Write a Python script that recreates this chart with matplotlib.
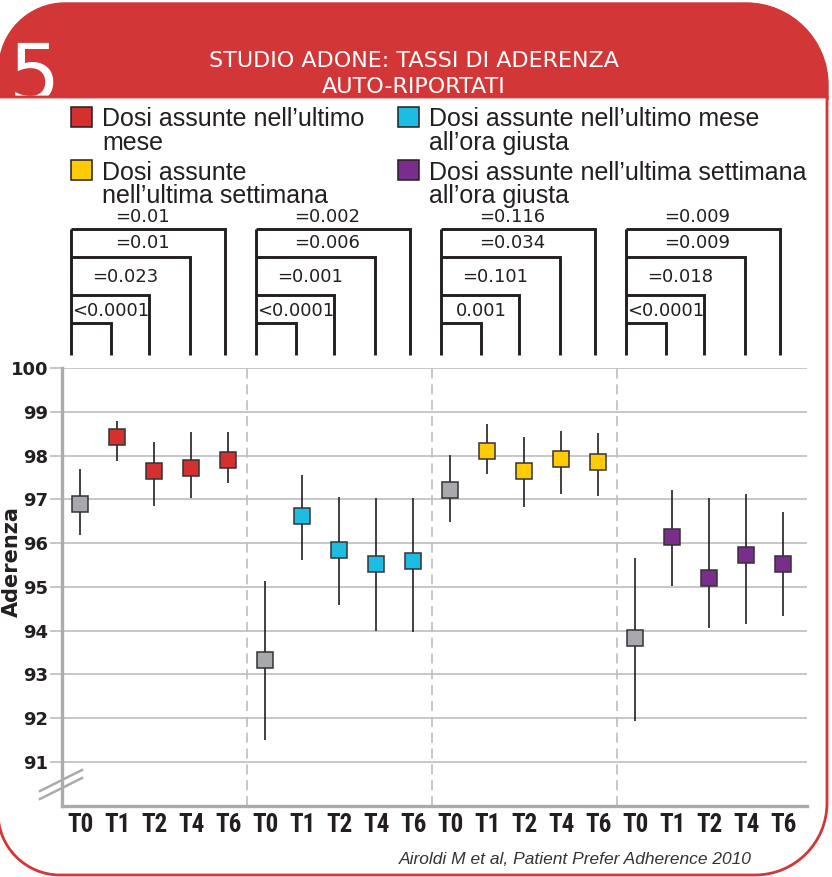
import matplotlib
matplotlib.use('Agg')
import matplotlib.pyplot as plt
from matplotlib.path import Path
from matplotlib.patches import PathPatch, Rectangle
from matplotlib import transforms
from matplotlib import font_manager as fm

# ---------------- data ----------------
timepoints = ['T0', 'T1', 'T2', 'T4', 'T6']

# panel 1: doses taken in the last month (red)
mean_mese = [96.89, 98.42, 97.64, 97.72, 97.90]
low_mese = [96.19, 97.87, 96.84, 97.04, 97.38]
high_mese = [97.70, 98.80, 98.31, 98.53, 98.54]
p_mese = ['<0.0001', '=0.023', '=0.01', '=0.01']

# panel 2: doses taken in the last month at the right time (cyan)
mean_mese_ora = [93.32, 96.62, 95.85, 95.52, 95.60]
low_mese_ora = [91.51, 95.62, 94.58, 94.00, 93.97]
high_mese_ora = [95.14, 97.55, 97.05, 97.04, 97.03]
p_mese_ora = ['<0.0001', '=0.001', '=0.006', '=0.002']

# panel 3: doses taken in the last week (yellow)
mean_sett = [97.21, 98.11, 97.64, 97.91, 97.85]
low_sett = [96.48, 97.58, 96.83, 97.13, 97.07]
high_sett = [98.02, 98.73, 98.43, 98.57, 98.51]
p_sett = ['0.001', '=0.101', '=0.034', '=0.116']

# panel 4: doses taken in the last week at the right time (purple)
mean_sett_ora = [93.83, 96.13, 95.20, 95.72, 95.52]
low_sett_ora = [91.93, 95.01, 94.07, 94.15, 94.34]
high_sett_ora = [95.65, 97.21, 97.04, 97.12, 96.72]
p_sett_ora = ['<0.0001', '=0.018', '=0.009', '=0.009']

legend_labels = ['Dosi assunte nell\u2019ultimo\nmese',
                 'Dosi assunte\nnell\u2019ultima settimana',
                 'Dosi assunte nell\u2019ultimo mese\nall\u2019ora giusta',
                 'Dosi assunte nell\u2019ultima settimana\nall\u2019ora giusta']

title = 'STUDIO ADONE: TASSI DI ADERENZA\nAUTO-RIPORTATI'
citation = 'Airoldi M et al, Patient Prefer Adherence 2010'

# ---------------- style ----------------
RED_HDR = '#D33637'
C_RED = '#D4302F'
C_CYAN = '#1DBDE3'
C_YEL = '#FFCB05'
C_PUR = '#7B2D8C'
C_GRAY = '#A7A9AC'
INK = '#231F20'
GRID = '#BDBEC0'

panels = [
    (mean_mese, low_mese, high_mese, p_mese, C_RED),
    (mean_mese_ora, low_mese_ora, high_mese_ora, p_mese_ora, C_CYAN),
    (mean_sett, low_sett, high_sett, p_sett, C_YEL),
    (mean_sett_ora, low_sett_ora, high_sett_ora, p_sett_ora, C_PUR),
]


def has_font(name):
    try:
        fm.findfont(fm.FontProperties(family=name), fallback_to_default=False)
        return True
    except Exception:
        return False


if has_font('Liberation Sans Narrow'):
    xt_family, xt_size = ['Liberation Sans Narrow', 'DejaVu Sans'], 18
elif has_font('Roboto Condensed'):
    xt_family, xt_size = ['Roboto Condensed', 'DejaVu Sans'], 18
else:
    xt_family, xt_size = ['DejaVu Sans'], 14

W, H, DPI = 832, 877, 100
fig = plt.figure(figsize=(W / DPI, H / DPI), dpi=DPI)
fig.patch.set_facecolor('white')

# background / overlay axes in pixel coordinates (y downward)
bg = fig.add_axes([0, 0, 1, 1], zorder=0)
bg.set_xlim(0, W)
bg.set_ylim(H, 0)
bg.axis('off')
bg.set_autoscale_on(False)

K = 0.5523
# header shape
x0, x1, yt, yb = -1, 828, 3, 100
rl, rr = 66, 82
hv = [(x0, yb), (x0, yt + rl), (x0, yt + rl - K * rl), (x0 + rl - K * rl, yt), (x0 + rl, yt),
      (x1 - rr, yt), (x1 - rr + K * rr, yt), (x1, yt + rr - K * rr), (x1, yt + rr),
      (x1, yb), (x0, yb)]
hc = [Path.MOVETO, Path.LINETO, Path.CURVE4, Path.CURVE4, Path.CURVE4,
      Path.LINETO, Path.CURVE4, Path.CURVE4, Path.CURVE4, Path.LINETO, Path.CLOSEPOLY]
bg.add_patch(PathPatch(Path(hv, hc), facecolor=RED_HDR, edgecolor=RED_HDR, lw=1, zorder=1))

# big "5"
bg.text(9, 101, '5', color='white', fontsize=58, family='DejaVu Sans',
        ha='left', va='baseline', zorder=2)

# white body with red outline and rounded bottom corners
bx0, bx1, by0, by1 = -2, 827, 97, 875
bl, br = 62, 72
bv = [(bx0, by0), (bx1, by0), (bx1, by1 - br),
      (bx1, by1 - br + K * br), (bx1 - br + K * br, by1), (bx1 - br, by1),
      (bx0 + bl, by1),
      (bx0 + bl - K * bl, by1), (bx0, by1 - bl + K * bl), (bx0, by1 - bl),
      (bx0, by0)]
bc = [Path.MOVETO, Path.LINETO, Path.LINETO, Path.CURVE4, Path.CURVE4, Path.CURVE4,
      Path.LINETO, Path.CURVE4, Path.CURVE4, Path.CURVE4, Path.CLOSEPOLY]
bg.add_patch(PathPatch(Path(bv, bc), facecolor='white', edgecolor=RED_HDR, lw=2.0, zorder=3))

# title
bg.text(414, 74, title, color='white', fontsize=16, family='DejaVu Sans',
        ha='center', va='center', linespacing=1.35, zorder=4)

# legend
leg_pos = [(71, 107, C_RED), (71, 160, C_YEL), (398, 107, C_CYAN), (398, 160, C_PUR)]
for (lx, ly, col), lab in zip(leg_pos, legend_labels):
    bg.add_patch(Rectangle((lx, ly), 21, 20, facecolor=col, edgecolor=INK, lw=1.1, zorder=5))
    bg.text(lx + 31, ly + 0.5, lab, color=INK, fontsize=18, family=['Liberation Sans', 'DejaVu Sans'],
            ha='left', va='top', linespacing=0.96, zorder=5)

# ---------------- main axes ----------------
ax_l, ax_r, ax_t, ax_b = 62, 807, 368, 805.7
ax = fig.add_axes([ax_l / W, (H - ax_b) / H, (ax_r - ax_l) / W, (ax_b - ax_t) / H], zorder=2)
ax.patch.set_visible(False)
ax.set_xlim(-0.49, 19.64)
ax.set_ylim(90, 100)

ax.set_yticks(range(91, 101))
ax.set_yticklabels([str(v) for v in range(91, 101)])
ax.yaxis.grid(True, color=GRID, lw=1.2, zorder=0)
ax.tick_params(axis='y', length=9, width=1.2, color=GRID, pad=1.0,
               labelsize=13, labelcolor=INK)
for t in ax.get_yticklabels():
    t.set_fontweight('bold')
    t.set_family('DejaVu Sans')

xs_all = list(range(len(timepoints) * len(panels)))
ax.set_xticks(xs_all)
ax.set_xticklabels(timepoints * len(panels))
ax.tick_params(axis='x', length=0, pad=5, labelsize=xt_size, labelcolor=INK)
for t in ax.get_xticklabels():
    t.set_fontweight('bold')
    t.set_family(xt_family)

for s in ['top', 'right']:
    ax.spines[s].set_visible(False)
for s in ['left', 'bottom']:
    ax.spines[s].set_color('#ABABAD')
    ax.spines[s].set_linewidth(2.4)

for k in range(1, len(panels)):
    ax.axvline(k * len(timepoints) - 0.5, color=GRID, lw=1.2, ls=(0, (6, 3.5)), zorder=1)

for k, (m, lo, hi, pv, col) in enumerate(panels):
    xs = [k * len(timepoints) + i for i in range(len(timepoints))]
    ax.vlines(xs, lo, hi, color=INK, lw=1.2, zorder=3)
    ax.plot(xs[:1], m[:1], 's', ms=11, mfc=C_GRAY, mec='#333333', mew=1.1, zorder=4, clip_on=False)
    ax.plot(xs[1:], m[1:], 's', ms=11, mfc=col, mec='#333333', mew=1.1, ls='none', zorder=4, clip_on=False)

bg.text(12, 562, 'Aderenza', rotation=90, fontsize=15, fontweight='bold',
        family='DejaVu Sans', color=INK, ha='center', va='center', zorder=5)

# axis break marks
bg.plot([40, 82], [791, 770], color='#ABABAD', lw=1.8, zorder=6)
bg.plot([40, 82], [799, 778], color='#ABABAD', lw=1.8, zorder=6)

# ---------------- significance brackets ----------------
blend = transforms.blended_transform_factory(ax.transData, bg.transData)
lvl_y = [323, 295, 256.7, 228.7]
right_off = [0.84, 1.85, 2.96, 3.91]
left_off = -0.24
txt_off = [0.83, 1.21, 1.67, 1.67]
txt_y = [311.5, 277, 243, 217]
y_base = 355
for k, (m, lo, hi, pv, col) in enumerate(panels):
    p0 = k * len(timepoints)
    xl = p0 + left_off
    bg.plot([xl, xl], [y_base, lvl_y[-1]], color=INK, lw=2.1, transform=blend,
            solid_capstyle='butt', zorder=6, clip_on=False)
    for j in range(4):
        xr = p0 + right_off[j]
        bg.plot([xl, xr, xr], [lvl_y[j], lvl_y[j], y_base], color=INK, lw=2.1,
                transform=blend, solid_joinstyle='miter', solid_capstyle='butt',
                zorder=6, clip_on=False)
        bg.text(p0 + txt_off[j], txt_y[j], pv[j], transform=blend, fontsize=13,
                family='DejaVu Sans', color=INK, ha='center', va='center', zorder=7)

# citation
bg.text(752, 859, citation, fontsize=12.5, style='italic',
        family=['Liberation Sans', 'DejaVu Sans'], color='#333333',
        ha='right', va='center', zorder=6)

fig.savefig('out.png', dpi=DPI, facecolor='white')
